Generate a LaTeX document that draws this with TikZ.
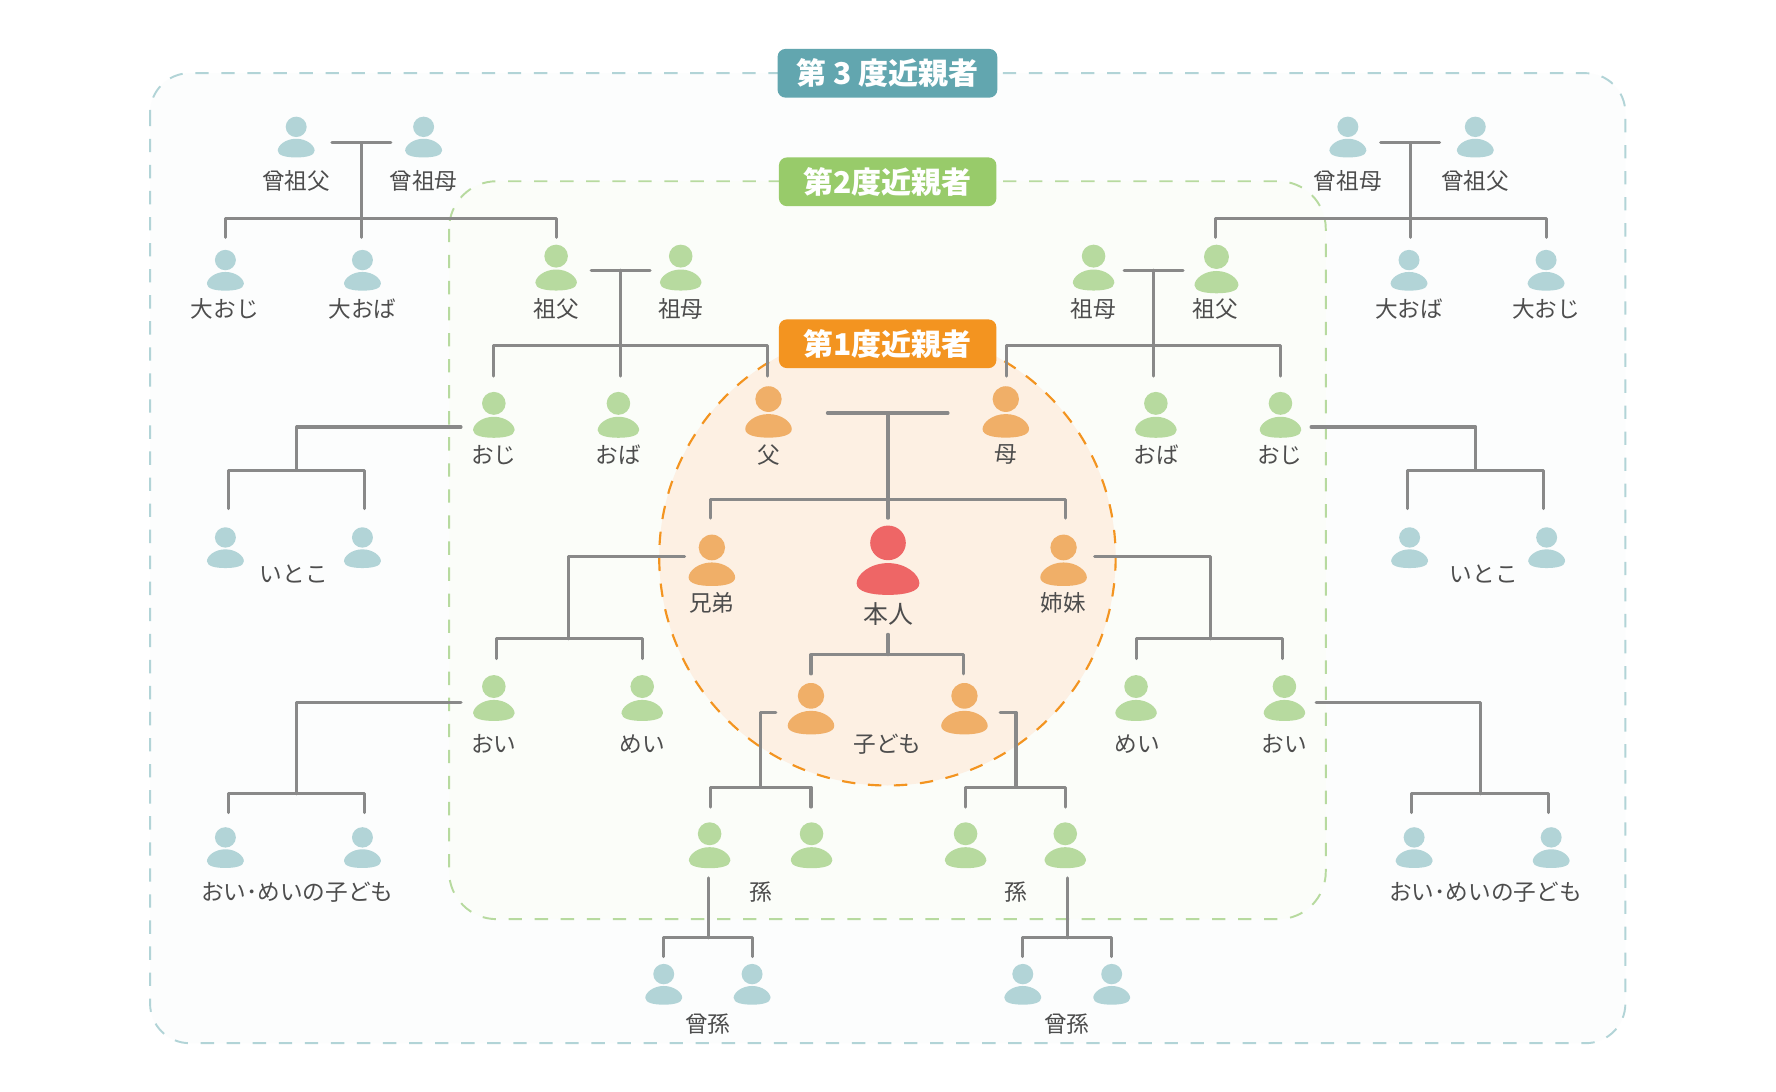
\documentclass[tikz,border=0pt]{standalone}
\usepackage{fontspec}
\usepackage{xcolor}
\setmainfont{Noto Sans CJK JP}
\definecolor{kinblue}{HTML}{B2D4D7}
\definecolor{kingreen}{HTML}{B7DA9F}
\definecolor{kinorange}{HTML}{F0AF68}
\definecolor{kinred}{HTML}{EE6666}
\definecolor{kinline}{HTML}{898989}
\definecolor{kintext}{HTML}{4D4D4D}
\definecolor{badgeblue}{HTML}{62A6AF}
\definecolor{badgegreen}{HTML}{98CB6A}
\definecolor{badgeorange}{HTML}{F39420}
\definecolor{circlefill}{HTML}{FDF0E3}
\tikzset{
	person/.pic={
		\path[pic actions] (0,9) ellipse [x radius=9.25, y radius=9];
		\path[pic actions] (0,19.5) .. controls (9.5,19.5) and (16.3,25.5) .. (16.3,30) .. controls (16.3,34.5) and (8.5,36) .. (0,36) .. controls (-8.5,36) and (-16.3,34.5) .. (-16.3,30) .. controls (-16.3,25.5) and (-9.5,19.5) .. (0,19.5) -- cycle;
	},
	blueperson/.style={fill=kinblue},
	greenperson/.style={fill=kingreen, scale=1.125},
	orangeperson/.style={fill=kinorange, scale=1.26},
	redperson/.style={fill=kinred, scale=1.7},
	kinlabel/.style={text=kintext, inner sep=0pt, font=\fontsize{20}{24}\selectfont},
	kinbadge/.style={rounded corners=7pt, text=white, inner sep=0pt, minimum width=192pt, minimum height=43pt, font=\fontsize{26.5}{30}\selectfont\bfseries},
	kinwire/.style={draw=kinline, line width=2.7pt, line cap=round, line join=round},
	kinframe/.style={line width=1.7pt, dash pattern=on 11.8pt off 11.2pt},
}
\newcommand{\kinbranch}[8]{
	\coordinate (#1from) at (#2,#3);
	\coordinate (#1bar) at (#4,#5);
	\coordinate (#1left) at (#6,#8);
	\coordinate (#1right) at (#7,#8);
	\draw[kinwire] (#1from) -| (#1bar);
	\draw[kinwire] (#1left) |- (#1bar) -| (#1right);
}
\newcommand{\kincouple}[4]{
	\coordinate (#1a) at (#2,#4);
	\coordinate (#1b) at (#3,#4);
	\draw[kinwire] (#1a) -- (#1b);
}
\begin{document}
\begin{tikzpicture}[x=1pt, y=-1pt]
	\useasboundingbox (0,0) rectangle (1568,964);
	\fill[white] (0,0) rectangle (1568,964);

	\draw[kinframe, draw=kinblue, fill=kinblue!4, rounded corners=35pt] (132.5,64.6) rectangle (1435,921);
	\draw[kinframe, draw=kingreen, fill=kingreen!6, rounded corners=42pt] (396.5,160) rectangle (1170.5,811.5);
	\draw[kinframe, draw=badgeorange, line width=1.9pt, fill=circlefill] (783.5,492) circle (201.5);

	\node[kinbadge, fill=badgeblue, minimum width=194pt] (third) at (783.5,64.7) {第 3 度近親者};
	\node[kinbadge, fill=badgegreen] (second) at (783.7,160.5) {第2度近親者};
	\node[kinbadge, fill=badgeorange] (first) at (783.7,303.5) {第1度近親者};

	\kincouple{ggl}{293}{345}{126}
	\kinbranch{ggl}{319.5}{126}{319.5}{193}{199}{491}{209.5}
	\coordinate (ggldrop) at (319.5,209.5);
	\draw[kinwire] (gglbar) -- (ggldrop);
	\kincouple{ggr}{1219}{1271}{126}
	\kinbranch{ggr}{1245}{126}{1245}{193}{1073}{1365}{209.5}
	\coordinate (ggrdrop) at (1245,209.5);
	\draw[kinwire] (ggrbar) -- (ggrdrop);
	\kincouple{gl}{522}{574}{238.5}
	\kinbranch{gl}{548}{238.5}{548}{305}{436}{678}{332}
	\coordinate (gldrop) at (548,332);
	\draw[kinwire] (glbar) -- (gldrop);
	\kincouple{gr}{992.5}{1044.5}{238.5}
	\kinbranch{gr}{1018}{238.5}{1018}{305}{888.5}{1130.5}{332}
	\coordinate (grdrop) at (1018,332);
	\draw[kinwire] (grbar) -- (grdrop);
	\kincouple{par}{730.5}{837}{364.6}
	\kinbranch{par}{784}{364.6}{784}{441}{627}{940.5}{457.5}
	\coordinate (pardrop) at (784,457.5);
	\draw[kinwire] (parbar) -- (pardrop);

	\kinbranch{cousl}{407}{377}{262}{415}{201.5}{322}{449}
	\kinbranch{cousr}{1157.5}{377}{1303}{415}{1242.5}{1363}{449}
	\kinbranch{sibl}{604.5}{491}{501.5}{564}{438}{567}{581.5}
	\kinbranch{sibr}{966.5}{491}{1069}{564}{1003}{1132}{581.5}
	\kinbranch{self}{784}{560}{784}{578}{716}{851}{595}
	\kinbranch{nepl}{407}{620}{262}{700.8}{201.5}{322}{717.4}
	\kinbranch{nepr}{1162}{620}{1307}{700.8}{1246.5}{1367}{717.4}
	\kinbranch{chl}{685}{629}{671.5}{695}{627.5}{716}{712.5}
	\kinbranch{chr}{883}{629}{897}{695}{852.5}{940.5}{712.5}
	\kinbranch{grl}{625.5}{775}{625.5}{828}{586}{664.5}{844.5}
	\kinbranch{grr}{942.5}{775}{942.5}{828}{903}{981.5}{844.5}

	\pic[blueperson] (gglfa) at (261.5,103) {person};
	\pic[blueperson] (gglmo) at (374,103) {person};
	\pic[blueperson] (ggrmo) at (1190,103) {person};
	\pic[blueperson] (ggrfa) at (1302.5,103) {person};
	\pic[blueperson] (gunl) at (199,220.6) {person};
	\pic[blueperson] (gaul) at (320,220.6) {person};
	\pic[blueperson] (gaur) at (1244,220.6) {person};
	\pic[blueperson] (gunr) at (1365,220.6) {person};
	\pic[blueperson] (cousla) at (199,465.5) {person};
	\pic[blueperson] (couslb) at (320,465.5) {person};
	\pic[blueperson] (cousra) at (1244.5,465.5) {person};
	\pic[blueperson] (cousrb) at (1365.5,465.5) {person};
	\pic[blueperson] (neckla) at (199,730.3) {person};
	\pic[blueperson] (necklb) at (320,730.3) {person};
	\pic[blueperson] (neckra) at (1248.5,730.3) {person};
	\pic[blueperson] (neckrb) at (1369.5,730.3) {person};
	\pic[blueperson] (ggchla) at (586,851) {person};
	\pic[blueperson] (ggchlb) at (664,851) {person};
	\pic[blueperson] (ggchra) at (903,851) {person};
	\pic[blueperson] (ggchrb) at (981.5,851) {person};

	\pic[greenperson] (glfa) at (491,216) {person};
	\pic[greenperson] (glmo) at (601,216) {person};
	\pic[greenperson] (grmo) at (965.5,216) {person};
	\pic[greenperson, scale=1.06] (grfa) at (1074,216) {person};
	\pic[greenperson] (unl) at (436,346) {person};
	\pic[greenperson] (aul) at (546,346) {person};
	\pic[greenperson] (aur) at (1020.5,346) {person};
	\pic[greenperson] (unr) at (1130.5,346) {person};
	\pic[greenperson] (nepla) at (436,596) {person};
	\pic[greenperson] (nieca) at (567,596) {person};
	\pic[greenperson] (niecb) at (1003,596) {person};
	\pic[greenperson] (neprb) at (1134,596) {person};
	\pic[greenperson] (gchla) at (626.5,726) {person};
	\pic[greenperson] (gchlb) at (716.5,726) {person};
	\pic[greenperson] (gchra) at (852.5,726) {person};
	\pic[greenperson] (gchrb) at (940.5,726) {person};

	\pic[orangeperson] (fa) at (678.5,341) {person};
	\pic[orangeperson] (mo) at (888,341) {person};
	\pic[orangeperson] (bro) at (628.5,472) {person};
	\pic[orangeperson] (sis) at (939,472) {person};
	\pic[orangeperson] (cha) at (716,603) {person};
	\pic[orangeperson] (chb) at (851.5,603) {person};
	\pic[redperson] (me) at (784,464) {person};

	\node[kinlabel] (lgglfa) at (261.5,159.5) {曾祖父};
	\node[kinlabel] (lgglmo) at (374,159.5) {曾祖母};
	\node[kinlabel] (lggrmo) at (1190,159.5) {曾祖母};
	\node[kinlabel] (lggrfa) at (1302.5,159.5) {曾祖父};
	\node[kinlabel] (lgunl) at (198.5,273) {大おじ};
	\node[kinlabel] (lgaul) at (320,273) {大おば};
	\node[kinlabel] (lglfa) at (491,273) {祖父};
	\node[kinlabel] (lglmo) at (601,273) {祖母};
	\node[kinlabel] (lgrmo) at (965.5,273) {祖母};
	\node[kinlabel] (lgrfa) at (1073,273) {祖父};
	\node[kinlabel] (lgaur) at (1244,273) {大おば};
	\node[kinlabel] (lgunr) at (1365,273) {大おじ};
	\node[kinlabel] (lunl) at (436,401.5) {おじ};
	\node[kinlabel] (laul) at (546,401.5) {おば};
	\node[kinlabel] (lfa) at (678.5,401.5) {父};
	\node[kinlabel] (lmo) at (888,401.5) {母};
	\node[kinlabel] (laur) at (1021,401.5) {おば};
	\node[kinlabel] (lunr) at (1130,401.5) {おじ};
	\node[kinlabel] (lcousl) at (259.5,506.6) {いとこ};
	\node[kinlabel] (lcousr) at (1310,506.6) {いとこ};
	\node[kinlabel] (lbro) at (628.5,532) {兄弟};
	\node[kinlabel] (lsis) at (939,532) {姉妹};
	\node[kinlabel, font=\fontsize{22}{26}\selectfont] (lself) at (784,542) {本人};
	\node[kinlabel] (lnepl) at (436,656.8) {おい};
	\node[kinlabel] (lniecl) at (567,656.8) {めい};
	\node[kinlabel] (lch) at (783.5,656.8) {子ども};
	\node[kinlabel] (lniecr) at (1004,656.8) {めい};
	\node[kinlabel] (lnepr) at (1134,656.8) {おい};
	\node[kinlabel] (lneckl) at (262.5,787.5) {おい･めいの子ども};
	\node[kinlabel] (lgchl) at (671.5,787.5) {孫};
	\node[kinlabel] (lgchr) at (896.5,787.5) {孫};
	\node[kinlabel] (lneckr) at (1311.5,787.5) {おい･めいの子ども};
	\node[kinlabel] (lggchl) at (625,904) {曾孫};
	\node[kinlabel] (lggchr) at (942,904) {曾孫};
\end{tikzpicture}
\end{document}
